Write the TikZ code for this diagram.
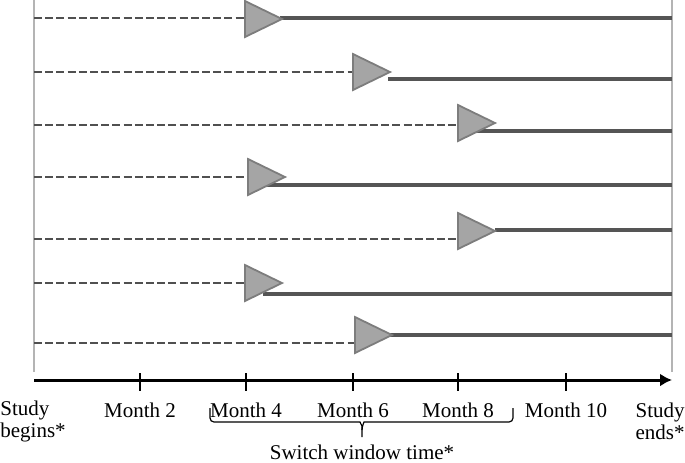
\documentclass[tikz,border=0pt]{standalone}
\usepackage{fontspec}
\setmainfont{Liberation Serif}
\usetikzlibrary{arrows.meta}

\begin{document}
\begin{tikzpicture}[x=0.5pt, y=-0.5pt,
    waitline/.style={line width=1.1pt, waitgray, dash pattern=on 4pt off 1.6pt},
    useline/.style={useline gray},
    switchtri/.style={fill=trifill, draw=triedge, line width=0.9pt, line join=miter},
    month/.style={font=\fontsize{10.5}{11}\selectfont, inner sep=0pt}]
  % colors close to the figure
  \definecolor{waitgray}{RGB}{80,80,80}
  \definecolor{useline gray}{RGB}{85,85,85}
  \definecolor{trifill}{RGB}{165,165,165}
  \definecolor{triedge}{RGB}{125,125,125}
  \definecolor{bordergray}{RGB}{180,180,180}

  \useasboundingbox (0,0) rectangle (685,462);

  % parameters
  \def\xa{34}    % study begins
  \def\xb{672}   % study ends
  \def\ya{380}   % time axis
  \def\tw{37}    % triangle length

  % start and end of the study
  \draw[line width=1pt, bordergray] (\xa,0) -- (\xa,372);
  \draw[line width=1pt, bordergray] (\xb,0) -- (\xb,372);

  % one row per patient: dashed y / triangle x / triangle y / solid x / solid y / solid width
  \foreach \yd/\tx/\ty/\sx/\sy/\w in {18/245/19/280/18/2,
      72/353/72/388/79/2,
      125/458/123/477/131/2,
      177/248/177/267/185/1.7,
      239/458/231/495/230/1.7,
      283/245/283/263/294/2,
      343/355/335/390/335/2}{
    \draw[waitline] (\xa,\yd) -- (\tx,\yd);
    \draw[useline, line width=\w pt] (\sx,\sy) -- (\xb,\sy);
    \filldraw[switchtri] (\tx,\ty-18) -- (\tx+\tw,\ty) -- (\tx,\ty+18) -- cycle;
  }

  % time axis
  \draw[line width=1.5pt, -{Latex[length=6pt, width=6.5pt]}] (\xa,\ya) -- (\xb,\ya);
  \foreach \x in {140,246,353,458,566}
    \draw[line width=0.75pt] (\x,373) -- (\x,391);

  % labels
  \node[month, anchor=west, align=left] (begins) at (0,421) {Study\\begins*};
  \node[month] (m2) at (140,410) {Month 2};
  \node[month] (m4) at (246,410) {Month 4};
  \node[month] (m6) at (353,410) {Month 6};
  \node[month] (m8) at (458,410) {Month 8};
  \node[month] (m10) at (566,410) {Month 10};
  \node[month, anchor=east, align=center] (ends) at (685,421) {Study\\ends*};

  % switch window
  \draw[line width=0.6pt, rounded corners=2pt] (210,408) |- (356,422) to[out=0, in=90] (362,430) -- (362,437);
  \draw[line width=0.6pt, rounded corners=2pt] (513,408) |- (368,422) to[out=180, in=90] (362,430);
  \node[month] (window) at (362,452) {Switch window time*};
\end{tikzpicture}
\end{document}
